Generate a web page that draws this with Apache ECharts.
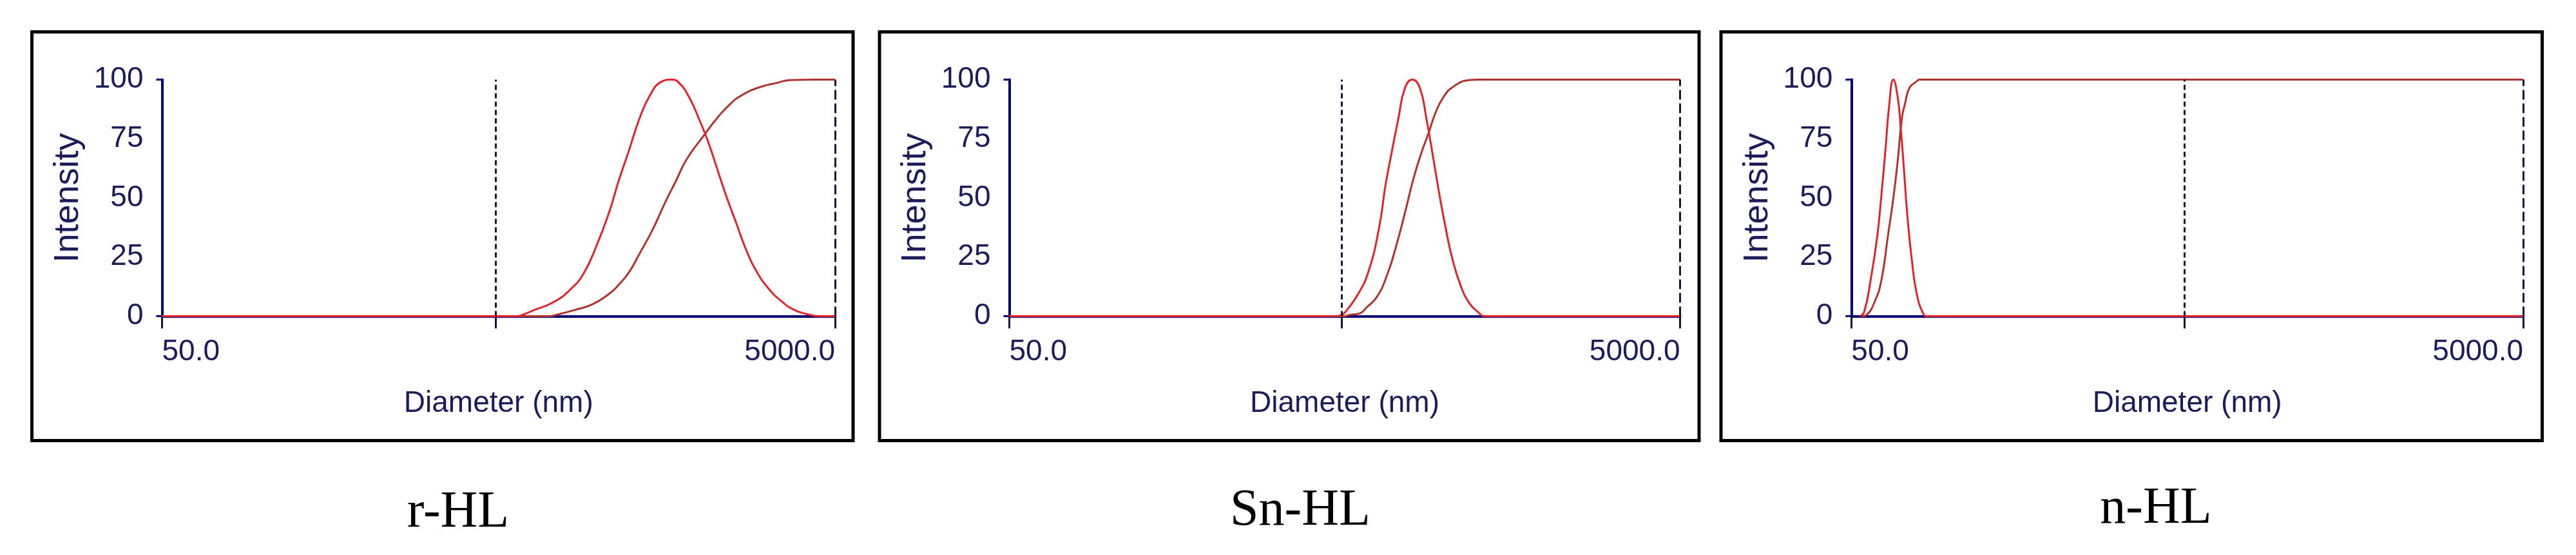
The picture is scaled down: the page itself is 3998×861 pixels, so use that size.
<!DOCTYPE html>
<html>
<head>
<meta charset="utf-8">
<script src="https://cdn.jsdelivr.net/npm/echarts@6/dist/echarts.min.js"></script>
<style>
  html, body { margin: 0; padding: 0; background: #fff; }
  #chart { width: 3998px; height: 861px; }
</style>
</head>
<body>
<div id="chart"></div>
<script>
// ---- data (diameter in nm, intensity in %) ----
const xTickLabels = [50, 5000];
const yTicks = [0, 25, 50, 75, 100];
const markerDiameters = [490, 5000];

// r-HL
const rhlDistD = [50, 567, 600, 630, 730, 820, 896, 979, 1069, 1133, 1220, 1312, 1412, 1520, 1636, 1709, 1840, 1980, 2100, 2227, 2362, 2541, 2735, 2943, 3167, 3458, 3776, 4125, 4500, 5000];
const rhlDistI = [0, 0, 1, 2.3, 6, 11.5, 18.2, 30, 44.5, 56.4, 70, 83.6, 93.6, 99, 100, 99, 92.7, 82.7, 73.6, 62.7, 51.8, 39.5, 27.3, 18.2, 11.8, 6.4, 2.7, 0.9, 0, 0];
const rhlCumD = [50, 707, 749, 845, 950, 1069, 1133, 1220, 1312, 1433, 1565, 1685, 1813, 2038, 2227, 2432, 2656, 2987, 3359, 3669, 4400, 5000];
const rhlCumI = [0, 0, 0.7, 2.7, 5, 9.6, 13, 18.5, 26.4, 36.4, 48.2, 57.3, 66.4, 76.4, 83.6, 89.5, 93.6, 96.8, 98.6, 99.8, 100, 100];

// Sn-HL
const snDistD = [50, 472, 490, 508, 547, 589, 633, 662, 692, 723, 756, 796, 838, 876, 915, 957, 1000, 1046, 1110, 1177, 1248, 1305, 5000];
const snDistI = [0, 0, 0.5, 2.7, 9.1, 19, 37.3, 55.5, 70, 83.6, 96.4, 100, 96.4, 83.6, 68.2, 51.8, 37.3, 24.5, 12.7, 5.5, 1.8, 0, 0];
const snCumD = [50, 500, 515, 555, 580, 624, 672, 713, 756, 802, 851, 889, 930, 986, 1061, 1177, 1250, 5000];
const snCumI = [0, 0, 0.5, 1.2, 3.6, 8.2, 18.2, 30, 43.6, 58.2, 70, 77.3, 85.5, 92.7, 97.3, 99.8, 100, 100];

// n-HL
const nDistD = [53, 54.6, 57.1, 59.7, 61.5, 63.3, 64.7, 66.7, 68.7, 70.2, 71.8, 73.4, 75.6, 78.4, 81.9, 83.7, 5000];
const nDistI = [0, 1.8, 15.5, 33.6, 51.8, 71.8, 88, 100, 92.7, 79, 61, 42.7, 24.5, 9, 1, 0, 0];
const nCumD = [54, 55.5, 58.8, 61.5, 64.2, 66.7, 68.7, 70.7, 72.3, 74.4, 77.8, 80.1, 5000];
const nCumI = [0, 0.5, 6.4, 15.5, 33.6, 50, 65.5, 83.6, 90, 96.4, 99, 100, 100];

// ---- layout ----
const panels = [
  { caption: 'r-HL',  left: 251.5,  width: 1044.5, frame: [49.5, 1324],  cap: [711, 796],  dist: [rhlDistD, rhlDistI], cum: [rhlCumD, rhlCumI] },
  { caption: 'Sn-HL', left: 1566.5, width: 1041,   frame: [1365, 2637],  cap: [2018, 793], dist: [snDistD, snDistI],   cum: [snCumD, snCumI] },
  { caption: 'n-HL',  left: 2873.3, width: 1042.7, frame: [2671, 3945.5], cap: [3346, 790], dist: [nDistD, nDistI],     cum: [nCumD, nCumI] }
];
const plotTop = 123.5, plotHeight = 367;
const navy = '#00007a';
const textColor = '#1c1c5c';
const font = '"Liberation Sans", Arial, sans-serif';

const pairs = (xs, ys) => xs.map((x, i) => [x, ys[i]]);

const grid = [], xAxis = [], yAxis = [], series = [], graphic = [];
panels.forEach((p, i) => {
  grid.push({ left: p.left, top: plotTop, width: p.width, height: plotHeight });
  xAxis.push({
    type: 'log', logBase: 10, min: 50, max: 5000, gridIndex: i,
    name: 'Diameter (nm)', nameLocation: 'middle', nameGap: 113,
    nameTextStyle: { color: textColor, fontSize: 46, fontFamily: font },
    axisLine: { lineStyle: { color: navy, width: 4 } },
    axisTick: { show: true, customValues: [50, 490, 5000], length: 19, lineStyle: { color: '#14143c', width: 3 } },
    axisLabel: {
      customValues: xTickLabels, formatter: v => Number(v).toFixed(1),
      alignMinLabel: 'left', alignMaxLabel: 'right',
      color: textColor, fontSize: 46, fontFamily: font, margin: 33
    },
    splitLine: { show: false }, minorTick: { show: false }
  });
  yAxis.push({
    type: 'value', min: yTicks[0], max: yTicks[yTicks.length - 1], interval: 25, gridIndex: i,
    name: 'Intensity', nameLocation: 'middle', nameGap: 118,
    nameTextStyle: { color: textColor, fontSize: 54, fontFamily: font },
    axisLine: { show: true, lineStyle: { color: navy, width: 4 } },
    axisTick: { show: true, customValues: [0, 100], length: 9, lineStyle: { color: navy, width: 3 } },
    axisLabel: { color: textColor, fontSize: 46, fontFamily: font, margin: 29 },
    splitLine: { show: false }
  });
  series.push({
    type: 'line', xAxisIndex: i, yAxisIndex: i, data: pairs(p.cum[0], p.cum[1]),
    smooth: 0.5, symbol: 'none', clip: false,
    lineStyle: { color: '#b0342e', width: 3 }
  });
  series.push({
    type: 'line', xAxisIndex: i, yAxisIndex: i, data: pairs(p.dist[0], p.dist[1]),
    smooth: 0.5, symbol: 'none', clip: false,
    lineStyle: { color: '#e3232b', width: 3 },
    markLine: {
      silent: true, symbol: 'none', label: { show: false },
      data: [
        { xAxis: markerDiameters[0], lineStyle: { color: '#14143c', width: 3, type: [8, 5] } },
        { xAxis: markerDiameters[1], lineStyle: { color: '#14143c', width: 3, type: [15, 6] } }
      ]
    }
  });
  graphic.push({
    type: 'rect', silent: true,
    shape: { x: p.frame[0], y: 49.5, width: p.frame[1] - p.frame[0], height: 634 },
    style: { fill: 'none', stroke: '#000', lineWidth: 5 }
  });
  graphic.push({
    type: 'text', x: p.cap[0], y: p.cap[1], silent: true,
    style: { text: p.caption, font: '80px "Liberation Serif", "Times New Roman", serif', fill: '#000', align: 'center', verticalAlign: 'middle' }
  });
});

const chart = echarts.init(document.getElementById('chart'));
chart.setOption({
  animation: false,
  backgroundColor: '#fff',
  grid, xAxis, yAxis, series, graphic
});
</script>
</body>
</html>
